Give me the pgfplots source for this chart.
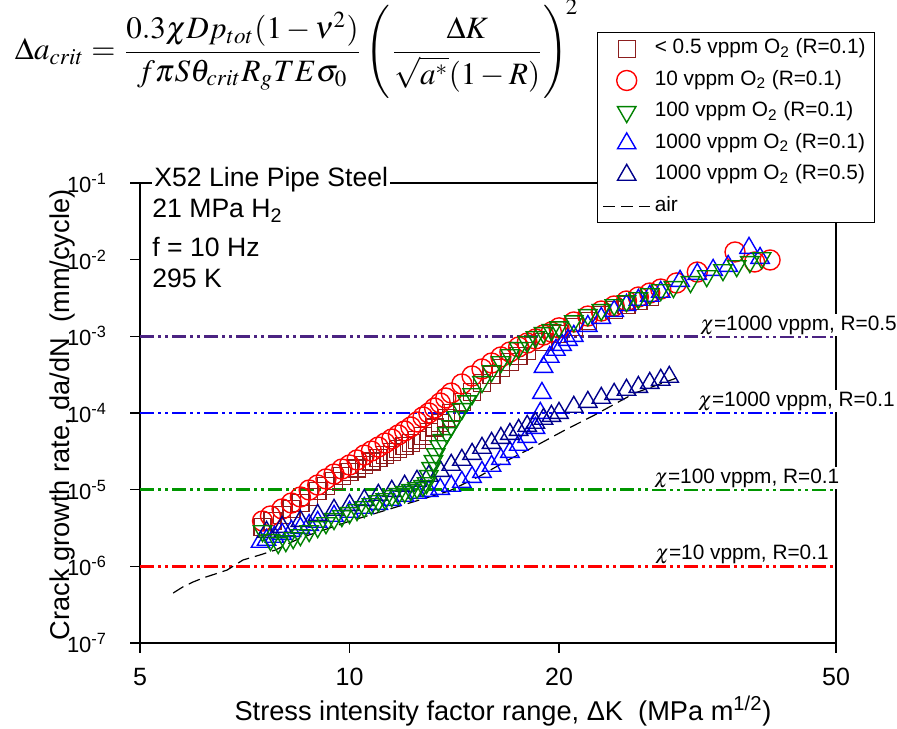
\documentclass[border=0pt]{standalone}
\usepackage{mathptmx}
\usepackage{fontspec}
\setmainfont{Liberation Sans}
\usepackage{graphicx}
\usepackage{pgfplots}
\pgfplotsset{compat=1.18}

\definecolor{cbrown}{RGB}{140,30,30}
\definecolor{cgreen}{RGB}{0,130,0}
\definecolor{cgreenl}{RGB}{0,150,0}
\definecolor{cnavy}{RGB}{0,0,140}
\definecolor{cpurple}{RGB}{75,35,130}

\pgfplotsset{
  legend image code/.code={\draw[mark repeat=2,mark phase=2,#1] plot coordinates {(0pt,0pt)(11.75pt,0pt)(23.5pt,0pt)};},
  markleg/.style={legend image code/.code={\draw[mark repeat=2,mark phase=2,##1] plot coordinates {(0pt,0pt)(11.75pt,0pt)(23.5pt,0pt)};}},
  refline/.style={forget plot, line width=1.2pt, dash pattern=on 7pt off 2pt on 1.5pt off 2pt on 1.5pt off 2pt},
  airline/.style={black, line width=0.6pt, dash pattern=on 6pt off 3pt},
}

\begin{document}
\begin{tikzpicture}
\begin{axis}[
  at={(0,0)}, anchor=south west,
  scale only axis, width=348pt, height=230pt,
  xmode=log, ymode=log, log basis x=10, log basis y=10,
  xmin=5, xmax=50, ymin=1e-7, ymax=1e-1,
  xtick={5,10,20,50}, xticklabels={5,10,20,50},
  xminorticks=false,
  ytick={1e-7,1e-6,1e-5,1e-4,1e-3,1e-2,1e-1},
  yticklabels={10\textsuperscript{-7},10\textsuperscript{-6},10\textsuperscript{-5},10\textsuperscript{-4},10\textsuperscript{-3},10\textsuperscript{-2},10\textsuperscript{-1}},
  tick pos=left, tick align=outside,
  major tick length=5pt, minor tick length=3pt,
  every tick/.style={black, line width=0.6pt},
  axis line style={line width=0.6pt},
  x tick label style={font=\fontsize{12.5}{14}\selectfont, yshift=-4pt},
  y tick label style={font=\fontsize{11}{13}\selectfont, xshift=-8pt},
  every axis x label/.style={at={(axis description cs:0.5216,0)}, anchor=base, yshift=-38.5pt, font=\fontsize{13.6}{16}\selectfont},
  every axis y label/.style={at={(axis description cs:-0.1006,0.496)}, rotate=90, anchor=base, font=\fontsize{13.6}{16}\selectfont},
  xlabel={Stress intensity factor range, ΔK\ \ (MPa m\textsuperscript{1/2})},
  ylabel={Crack growth rate, da/dN\ \ (mm/cycle)},
  legend style={at={(0.6566,1.328)}, anchor=north west, draw=black, line width=0.6pt, fill=white,
    font=\fontsize{10.4}{12}\selectfont, inner xsep=2.5pt, inner ysep=2pt, row sep=3.5pt,
    nodes={inner sep=2pt, text height=6.5pt, text depth=1.75pt}},
  legend cell align=left,
]
% critical crack-extension lines
\addplot[refline, cpurple] coordinates {(5,1e-3) (50,1e-3)};
\addplot[refline, blue] coordinates {(5,1e-4) (50,1e-4)};
\addplot[refline, cgreenl] coordinates {(5,1e-5) (50,1e-5)};
\addplot[refline, red] coordinates {(5,1e-6) (50,1e-6)};

% air
\addplot[forget plot, airline] table[row sep=crcr]{
5.58 4.49e-7\\
5.76 5.38e-7\\
5.96 6.25e-7\\
6.16 7.05e-7\\
6.41 7.94e-7\\
6.67 8.95e-7\\
7.03 1.21e-6\\
7.44 1.41e-6\\
7.82 1.63e-6\\
8.49 2.34e-6\\
10.02 3.90e-6\\
11.8 6.12e-6\\
13.9 9.61e-6\\
15.4 1.51e-5\\
17.0 2.51e-5\\
18.5 3.71e-5\\
20.4 6.00e-5\\
22.5 9.42e-5\\
25.7 1.82e-4\\
29.5 2.86e-4\\
};

% < 0.5 vppm O2
\addplot[forget plot, only marks, mark=square, mark size=4.25pt, cbrown, line width=0.7pt] table[row sep=crcr]{
7.5 3.26e-6\\
7.75 3.90e-6\\
8.0 4.68e-6\\
8.25 5.60e-6\\
8.5 6.70e-6\\
8.75 8.03e-6\\
9.0 9.61e-6\\
9.25 1.12e-5\\
9.5 1.30e-5\\
9.75 1.50e-5\\
10.0 1.70e-5\\
10.25 1.90e-5\\
10.5 2.10e-5\\
10.75 2.34e-5\\
11.0 2.59e-5\\
11.25 2.83e-5\\
11.5 3.10e-5\\
11.75 3.40e-5\\
12.0 3.71e-5\\
12.25 4.06e-5\\
12.5 4.45e-5\\
12.75 5.00e-5\\
13.0 5.65e-5\\
13.25 6.45e-5\\
13.5 7.41e-5\\
13.75 8.60e-5\\
14.0 1.00e-4\\
14.5 1.39e-4\\
15.0 1.88e-4\\
15.5 2.46e-4\\
16.0 3.13e-4\\
16.5 3.86e-4\\
17.0 4.62e-4\\
17.5 5.54e-4\\
18.0 6.44e-4\\
19.0 8.44e-4\\
20.0 1.07e-3\\
21 1.32e-3\\
22 1.58e-3\\
23 1.90e-3\\
24 2.21e-3\\
25 2.56e-3\\
26 2.89e-3\\
27 3.26e-3\\
};

% 10 vppm O2
\addplot[forget plot, only marks, mark=o, mark size=5pt, red, line width=0.7pt] table[row sep=crcr]{
7.5 3.90e-6\\
7.7 4.54e-6\\
8.0 5.60e-6\\
8.25 6.70e-6\\
8.5 8.03e-6\\
8.75 9.9e-6\\
9.0 1.15e-5\\
9.25 1.38e-5\\
9.5 1.60e-5\\
9.75 1.86e-5\\
10.0 2.10e-5\\
10.25 2.44e-5\\
10.5 2.83e-5\\
10.75 3.19e-5\\
11.0 3.60e-5\\
11.25 4.06e-5\\
11.5 4.58e-5\\
11.75 5.17e-5\\
12.0 5.83e-5\\
12.25 6.57e-5\\
12.5 7.64e-5\\
12.75 8.87e-5\\
13.0 1.00e-4\\
13.25 1.16e-4\\
13.5 1.35e-4\\
13.75 1.57e-4\\
14.0 1.82e-4\\
14.5 2.39e-4\\
15.0 3.04e-4\\
15.5 3.75e-4\\
16.0 4.49e-4\\
16.5 5.38e-4\\
17.0 6.25e-4\\
17.5 7.26e-4\\
18.0 8.18e-4\\
18.5 9.23e-4\\
19.0 1.04e-3\\
19.5 1.14e-3\\
20.0 1.29e-3\\
21 1.54e-3\\
22 1.84e-3\\
23 2.14e-3\\
24 2.49e-3\\
25 2.89e-3\\
26 3.26e-3\\
27 3.67e-3\\
28 4.14e-3\\
29.5 4.97e-3\\
31.6 6.90e-3\\
35.8 1.26e-2\\
38.2 9.33e-3\\
40.2 9.91e-3\\
};

% 1000 vppm O2, R=0.1
\addplot[forget plot, only marks, mark=triangle, mark size=5.3pt, blue, line width=0.7pt] table[row sep=crcr]{
7.45 2.08e-6\\
7.6 2.21e-6\\
7.8 2.42e-6\\
8.0 2.64e-6\\
8.25 2.89e-6\\
8.5 3.16e-6\\
8.75 3.46e-6\\
9.0 3.79e-6\\
9.5 4.54e-6\\
10.0 5.12e-6\\
10.5 5.77e-6\\
11.0 6.50e-6\\
11.5 7.33e-6\\
12.0 8.28e-6\\
12.5 9.06e-6\\
13.0 9.61e-6\\
13.5 1.02e-5\\
14.0 1.12e-5\\
14.5 1.26e-5\\
15.0 1.46e-5\\
15.5 1.70e-5\\
16.0 2.04e-5\\
16.5 2.51e-5\\
17.0 3.10e-5\\
17.5 3.83e-5\\
18.0 4.86e-5\\
18.5 6.37e-5\\
18.8 1.00e-4\\
18.9 1.82e-4\\
19.0 3.98e-4\\
19.4 5.38e-4\\
19.8 6.64e-4\\
20.2 7.71e-4\\
20.6 8.95e-4\\
21 1.01e-3\\
22 1.36e-3\\
23 1.73e-3\\
24 2.14e-3\\
25 2.56e-3\\
26 2.98e-3\\
27 3.36e-3\\
28 3.79e-3\\
29.85 5.27e-3\\
31.6 6.50e-3\\
33.3 7.33e-3\\
35.0 8.26e-3\\
37.5 1.42e-2\\
38.9 1.05e-2\\
};

% 1000 vppm O2, R=0.5
\addplot[forget plot, only marks, mark=triangle, mark size=5.3pt, cnavy, line width=0.7pt] table[row sep=crcr]{
7.6 2.81e-6\\
8.0 3.26e-6\\
8.5 3.90e-6\\
9.0 4.68e-6\\
9.5 5.44e-6\\
10.0 6.31e-6\\
10.5 7.33e-6\\
11.0 8.53e-6\\
11.5 9.61e-6\\
12.0 1.12e-5\\
12.5 1.30e-5\\
13.0 1.51e-5\\
13.5 1.75e-5\\
14.0 2.10e-5\\
14.5 2.44e-5\\
15.0 2.92e-5\\
15.5 3.50e-5\\
16.0 4.06e-5\\
16.5 4.72e-5\\
17.0 5.32e-5\\
17.5 6.00e-5\\
18.0 6.77e-5\\
18.5 7.41e-5\\
19.0 8.36e-5\\
19.5 9.14e-5\\
20.0 1.00e-4\\
21 1.20e-4\\
22 1.39e-4\\
23 1.57e-4\\
24 1.77e-4\\
25 2.00e-4\\
26 2.18e-4\\
27 2.46e-4\\
28 2.70e-4\\
28.8 2.95e-4\\
};

% 100 vppm O2
\addplot[forget plot, only marks, mark=triangle, mark size=5.3pt, mark options={rotate=180}, cgreen, line width=0.7pt] table[row sep=crcr]{
7.5 2.89e-6\\
7.7 2.21e-6\\
7.9 2.02e-6\\
8.1 2.14e-6\\
8.3 2.34e-6\\
8.5 2.56e-6\\
8.75 2.89e-6\\
9.0 3.26e-6\\
9.25 3.67e-6\\
9.5 4.15e-6\\
9.75 4.54e-6\\
10.0 4.97e-6\\
10.25 5.44e-6\\
10.5 5.94e-6\\
10.75 6.50e-6\\
11.0 7.11e-6\\
11.25 7.55e-6\\
11.5 8.28e-6\\
11.75 8.79e-6\\
12.0 9.33e-6\\
12.25 9.91e-6\\
12.5 1.05e-5\\
12.75 1.12e-5\\
12.9 1.22e-5\\
13.0 1.51e-5\\
13.1 1.92e-5\\
13.2 2.37e-5\\
13.3 2.92e-5\\
13.45 3.71e-5\\
13.6 4.45e-5\\
13.8 5.48e-5\\
14.0 6.77e-5\\
14.25 8.87e-5\\
14.5 1.13e-4\\
14.75 1.43e-4\\
15.0 1.77e-4\\
15.5 2.54e-4\\
16.0 3.53e-4\\
16.5 4.62e-4\\
17.0 5.71e-4\\
17.5 7.05e-4\\
18.0 8.44e-4\\
18.5 9.80e-4\\
19.0 1.11e-3\\
19.5 1.21e-3\\
20.0 1.32e-3\\
21 1.58e-3\\
22 1.90e-3\\
23 2.21e-3\\
24 2.56e-3\\
25 2.89e-3\\
26 3.16e-3\\
27 3.56e-3\\
28 4.02e-3\\
29.2 4.41e-3\\
30.9 5.12e-3\\
32.6 6.12e-3\\
34.4 7.33e-3\\
36.0 8.26e-3\\
37.6 9.33e-3\\
39.1 1.05e-2\\
};

\addlegendimage{only marks, mark=square, mark size=4.25pt, cbrown, line width=0.7pt, markleg}
\addlegendentry{< 0.5 vppm O\textsubscript{2} (R=0.1)}
\addlegendimage{only marks, mark=o, mark size=5pt, red, line width=0.7pt, markleg}
\addlegendentry{10 vppm O\textsubscript{2} (R=0.1)}
\addlegendimage{only marks, mark=triangle, mark size=5.3pt, mark options={rotate=180}, cgreen, line width=0.7pt, markleg}
\addlegendentry{100 vppm O\textsubscript{2} (R=0.1)}
\addlegendimage{only marks, mark=triangle, mark size=5.3pt, blue, line width=0.7pt, markleg}
\addlegendentry{1000 vppm O\textsubscript{2} (R=0.1)}
\addlegendimage{only marks, mark=triangle, mark size=5.3pt, cnavy, line width=0.7pt, markleg}
\addlegendentry{1000 vppm O\textsubscript{2} (R=0.5)}
\addlegendimage{airline}
\addlegendentry{air}
\end{axis}

\begin{scope}[shift={(-70pt,321.5pt)}, x=0.5pt, y=-0.5pt]
\node[anchor=base, inner sep=0pt] at (297,60) {\resizebox{282pt}{!}{$\displaystyle \Delta a_{crit}=\frac{0.3\chi D p_{tot}(1-\nu^{2})}{f\pi S\theta_{crit}R_{g}TE\sigma_{0}}\left(\rule[-12pt]{0pt}{29pt}\frac{\Delta K}{\sqrt{a^{*}}(1-R)}\right)^{\!2}$}};
\begin{scope}[every node/.style={anchor=base west, inner sep=0pt, font=\fontsize{13.3}{16}\selectfont}]
\node[fill=white, inner xsep=1pt, inner ysep=2pt] at (152,187) {X52 Line Pipe Steel};
\node at (152,218) {21 MPa H\textsubscript{2}};
\node at (152,257) {f = 10 Hz};
\node at (152,288) {295 K};
\end{scope}
\begin{scope}[every node/.style={anchor=base west, fill=white, inner xsep=1pt, inner ysep=0.5pt, font=\fontsize{10.4}{12}\selectfont}]
\node at (698,330) {$\chi$=1000 vppm, R=0.5};
\node at (696,406) {$\chi$=1000 vppm, R=0.1};
\node at (652,483) {$\chi$=100 vppm, R=0.1};
\node at (653,559) {$\chi$=10 vppm, R=0.1};
\end{scope}
\pgfresetboundingbox
\path (0,0) rectangle (897,728);
\end{scope}
\end{tikzpicture}
\end{document}
